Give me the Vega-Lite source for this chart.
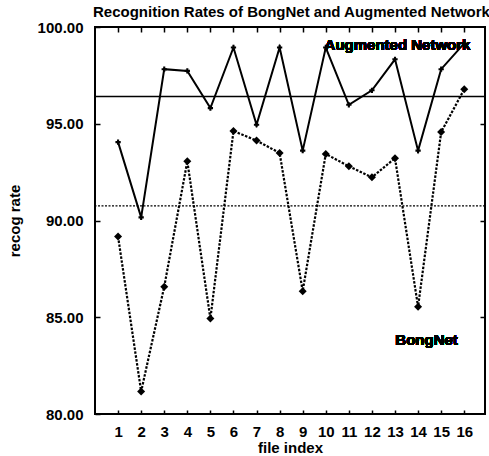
{
  "$schema": "https://vega.github.io/schema/vega-lite/v6.json",
  "width": 390,
  "height": 387,
  "autosize": "none",
  "padding": {"left": 95, "top": 27, "right": 4, "bottom": 42},
  "background": "white",
  "title": {
    "text": "Recognition Rates of BongNet and Augmented Network",
    "anchor": "start",
    "frame": "group",
    "font": "Liberation Sans",
    "fontSize": 15,
    "fontWeight": "bold",
    "color": "black",
    "offset": 0.5,
    "dx": -2
  },
  "config": {
    "view": {"stroke": "black", "strokeWidth": 2},
    "axis": {
      "domain": false,
      "grid": false,
      "tickColor": "black",
      "tickWidth": 1.5,
      "labelFont": "Liberation Sans",
      "labelFontSize": 15,
      "labelFontWeight": "bold",
      "labelColor": "black",
      "titleFont": "Liberation Sans",
      "titleFontSize": 15,
      "titleFontWeight": "bold",
      "titleColor": "black"
    }
  },
  "data": {
    "values": [
      {"file": 1, "net": "Augmented Network", "rate": 94.05},
      {"file": 2, "net": "Augmented Network", "rate": 90.16},
      {"file": 3, "net": "Augmented Network", "rate": 97.82},
      {"file": 4, "net": "Augmented Network", "rate": 97.73},
      {"file": 5, "net": "Augmented Network", "rate": 95.81},
      {"file": 6, "net": "Augmented Network", "rate": 98.94},
      {"file": 7, "net": "Augmented Network", "rate": 94.95},
      {"file": 8, "net": "Augmented Network", "rate": 98.94},
      {"file": 9, "net": "Augmented Network", "rate": 93.61},
      {"file": 10, "net": "Augmented Network", "rate": 98.94},
      {"file": 11, "net": "Augmented Network", "rate": 95.98},
      {"file": 12, "net": "Augmented Network", "rate": 96.73},
      {"file": 13, "net": "Augmented Network", "rate": 98.33},
      {"file": 14, "net": "Augmented Network", "rate": 93.61},
      {"file": 15, "net": "Augmented Network", "rate": 97.82},
      {"file": 16, "net": "Augmented Network", "rate": 99.15},
      {"file": 1, "net": "BongNet", "rate": 89.17},
      {"file": 2, "net": "BongNet", "rate": 81.16},
      {"file": 3, "net": "BongNet", "rate": 86.58},
      {"file": 4, "net": "BongNet", "rate": 93.06},
      {"file": 5, "net": "BongNet", "rate": 84.93},
      {"file": 6, "net": "BongNet", "rate": 94.62},
      {"file": 7, "net": "BongNet", "rate": 94.13},
      {"file": 8, "net": "BongNet", "rate": 93.49},
      {"file": 9, "net": "BongNet", "rate": 86.35},
      {"file": 10, "net": "BongNet", "rate": 93.44},
      {"file": 11, "net": "BongNet", "rate": 92.8},
      {"file": 12, "net": "BongNet", "rate": 92.23},
      {"file": 13, "net": "BongNet", "rate": 93.22},
      {"file": 14, "net": "BongNet", "rate": 85.54},
      {"file": 15, "net": "BongNet", "rate": 94.57},
      {"file": 16, "net": "BongNet", "rate": 96.78}
    ]
  },
  "resolve": {"axis": {"x": "independent", "y": "independent"}},
  "layer": [
    {
      "transform": [{"filter": "datum.net === 'Augmented Network'"}],
      "mark": {"type": "line", "color": "black", "strokeWidth": 2},
      "encoding": {
        "x": {
          "field": "file", "type": "quantitative",
          "scale": {"domain": [0, 16.9], "nice": false, "zero": false},
          "axis": {
            "orient": "bottom",
            "values": [1, 2, 3, 4, 5, 6, 7, 8, 9, 10, 11, 12, 13, 14, 15, 16],
            "format": "d",
            "tickSize": -4,
            "labelPadding": 14.5,
            "labelFlush": false,
            "labelOverlap": false,
            "title": "file index",
            "titlePadding": 1
          }
        },
        "y": {
          "field": "rate", "type": "quantitative",
          "scale": {"domain": [80, 100], "nice": false, "zero": false},
          "axis": {
            "orient": "left",
            "values": [80, 85, 90, 95, 100],
            "format": ".2f",
            "tickSize": -5,
            "labelPadding": 17,
            "labelFlush": false,
            "labelOverlap": false,
            "title": "recog rate",
            "titlePadding": 15
          }
        }
      }
    },
    {
      "transform": [{"filter": "datum.net === 'Augmented Network'"}],
      "mark": {"type": "point", "shape": "cross", "filled": true, "color": "black", "size": 28, "opacity": 1},
      "encoding": {
        "x": {
          "field": "file", "type": "quantitative",
          "axis": {
            "orient": "top",
            "values": [1, 2, 3, 4, 5, 6, 7, 8, 9, 10, 11, 12, 13, 14, 15, 16],
            "tickSize": -5,
            "labels": false,
            "title": null
          }
        },
        "y": {
          "field": "rate", "type": "quantitative",
          "axis": {
            "orient": "right",
            "values": [85, 90, 95],
            "tickSize": -5,
            "labels": false,
            "title": null
          }
        }
      }
    },
    {
      "transform": [{"filter": "datum.net === 'BongNet'"}],
      "mark": {"type": "line", "color": "black", "strokeWidth": 2.2, "strokeDash": [2.5, 1.5]},
      "encoding": {
        "x": {"field": "file", "type": "quantitative", "axis": null},
        "y": {"field": "rate", "type": "quantitative", "axis": null}
      }
    },
    {
      "transform": [{"filter": "datum.net === 'BongNet'"}],
      "mark": {"type": "point", "shape": "diamond", "filled": true, "color": "black", "size": 64, "opacity": 1},
      "encoding": {
        "x": {"field": "file", "type": "quantitative", "axis": null},
        "y": {"field": "rate", "type": "quantitative", "axis": null}
      }
    },
    {
      "transform": [{"filter": "datum.net === 'Augmented Network'"}],
      "mark": {"type": "rule", "color": "black", "strokeWidth": 1.5},
      "encoding": {
        "y": {"aggregate": "mean", "field": "rate", "type": "quantitative", "axis": null}
      }
    },
    {
      "transform": [{"filter": "datum.net === 'BongNet'"}],
      "mark": {"type": "rule", "color": "black", "strokeWidth": 1.4, "strokeDash": [2, 1.5]},
      "encoding": {
        "y": {"aggregate": "mean", "field": "rate", "type": "quantitative", "axis": null}
      }
    },
    {
      "mark": {"type": "text", "text": "Augmented Network", "align": "left", "baseline": "middle", "font": "Liberation Sans", "fontSize": 15, "fontWeight": "bold", "color": "black"},
      "encoding": {
        "x": {"datum": 9.95, "type": "quantitative", "axis": null},
        "y": {"datum": 99.05, "type": "quantitative", "axis": null}
      }
    },
    {
      "mark": {"type": "text", "text": "BongNet", "align": "center", "baseline": "middle", "font": "Liberation Sans", "fontSize": 15, "fontWeight": "bold", "color": "black"},
      "encoding": {
        "x": {"datum": 14.37, "type": "quantitative", "axis": null},
        "y": {"datum": 83.84, "type": "quantitative", "axis": null}
      }
    }
  ]
}
